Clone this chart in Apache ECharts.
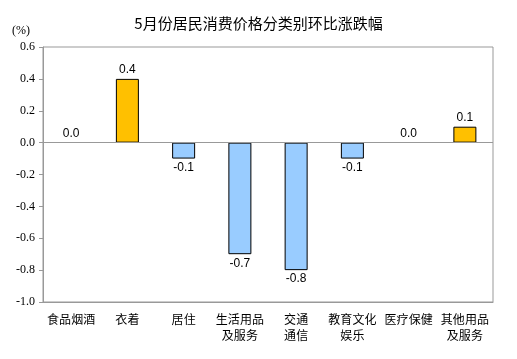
<!DOCTYPE html>
<html><head><meta charset="utf-8">
<script src="https://cdn.jsdelivr.net/npm/echarts@6/dist/echarts.min.js"></script>
<style>html,body{margin:0;padding:0;background:#fff}#c{width:517px;height:359px}</style>
</head><body><div id="c"></div>
<script>
const categories = ['食品烟酒','衣着','居住','生活用品\n及服务','交通\n通信','教育文化\n娱乐','医疗保健','其他用品\n及服务'];
const values = [0.0, 0.4, -0.1, -0.7, -0.8, -0.1, 0.0, 0.1];
const yTicks = [-1.0,-0.8,-0.6,-0.4,-0.2,0.0,0.2,0.4,0.6];

const chart = echarts.init(document.getElementById('c'));
chart.setOption({
  animation:false,
  title:{text:'5月份居民消费价格分类别环比涨跌幅',left:'center',top:11,
    textStyle:{fontFamily:'Noto Sans CJK SC',fontSize:15,fontWeight:'normal',color:'#000'}},
  graphic:[{type:'text',left:12,top:25,style:{text:'(%)',fontFamily:'Liberation Serif',fontSize:12,fill:'#000'}}],
  grid:{left:43,right:24,top:47,bottom:57,show:true,borderColor:'#999',borderWidth:1},
  xAxis:{type:'category',data:categories,position:'bottom',
    axisLine:{onZero:false,show:true,lineStyle:{color:'#999'}},
    axisTick:{show:false},
    axisLabel:{interval:0,margin:9,fontFamily:'Noto Sans CJK SC',fontSize:12,color:'#000',lineHeight:16}},
  yAxis:{type:'value',min:-1.0,max:0.6,interval:0.2,
    axisLine:{show:true,lineStyle:{color:'#999'}},
    axisTick:{show:true,length:4,lineStyle:{color:'#999'}},
    splitLine:{show:false},
    axisLabel:{fontFamily:'Liberation Serif',fontSize:12,color:'#000',margin:8,
      formatter:v=>v.toFixed(1)}},
  series:[{type:'bar',barWidth:23,
    data:values.map(v=>({value:v,
      itemStyle:{color:v>=0?'#FFC000':'#99CCFF',borderColor:'#000',borderWidth:v===0?0:1},
      label:{position:v>=0?'top':'bottom'}})),
    label:{show:true,fontFamily:'Liberation Sans',fontSize:12,color:'#000',distance:3,
      formatter:p=>p.value.toFixed(1)},
    markLine:{silent:true,symbol:'none',label:{show:false},
      lineStyle:{color:'#999',type:'solid',width:1},data:[{yAxis:0}]}
  }]
});
</script></body></html>
